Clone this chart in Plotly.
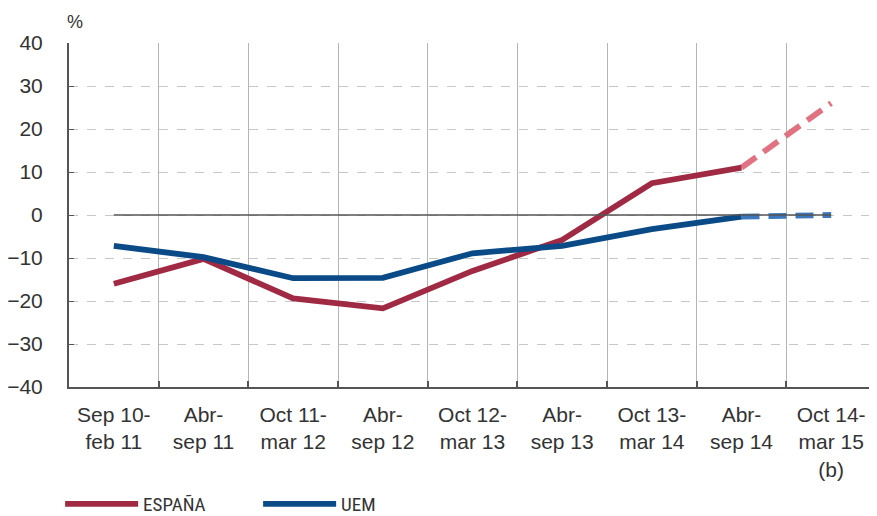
import plotly.graph_objects as go

categories = ["Sep 10-<br>feb 11", "Abr-<br>sep 11", "Oct 11-<br>mar 12", "Abr-<br>sep 12",
              "Oct 12-<br>mar 13", "Abr-<br>sep 13", "Oct 13-<br>mar 14", "Abr-<br>sep 14",
              "Oct 14-<br>mar 15<br>(b)"]
espana = [-16, -10.2, -19.4, -21.7, -13, -5.8, 7.4, 11.0, 26]
uem = [-7.2, -9.8, -14.7, -14.6, -8.9, -7.2, -3.3, -0.4, 0.0]
zero_ref = [0] * len(categories)
y_ticks = [-40, -30, -20, -10, 0, 10, 20, 30, 40]

pos = list(range(len(categories)))
bounds = [i + 0.5 for i in range(len(categories))]

RED = "#a02a43"
RED_L = "#e07281"
BLUE = "#0a4a87"
BLUE_L = "#3d78bd"
TXT = "#333333"
FONT = "Liberation Sans, Arial, sans-serif"
NARROW = "Liberation Sans Narrow, Arial Narrow, Roboto Condensed, Liberation Sans, sans-serif"

fig = go.Figure()
fig.add_trace(go.Scatter(x=pos, y=zero_ref, xaxis="x2", mode="lines",
                         line=dict(color="#555555", width=1.6), showlegend=False,
                         hoverinfo="skip"))
# estimated segments (dashed)
fig.add_trace(go.Scatter(x=pos[-2:], y=espana[-2:], mode="lines",
                         line=dict(color=RED_L, width=5.8, dash="18px,9px"), showlegend=False))
fig.add_trace(go.Scatter(x=pos[-2:], y=uem[-2:], mode="lines",
                         line=dict(color=BLUE_L, width=5.8, dash="18px,9px"), showlegend=False))
fig.add_trace(go.Scatter(x=pos[:-1], y=espana[:-1], mode="lines", name="ESPAÑA",
                         line=dict(color=RED, width=5.8)))
fig.add_trace(go.Scatter(x=pos[:-1], y=uem[:-1], mode="lines", name="UEM",
                         line=dict(color=BLUE, width=5.8)))

fig.update_layout(
    width=869, height=508,
    margin=dict(l=61, r=1, t=35, b=129, autoexpand=False),
    plot_bgcolor="white", paper_bgcolor="white",
    font=dict(family=FONT, color=TXT, size=21),
    xaxis=dict(range=[-0.5, 8.5], tickmode="array", tickvals=pos, ticktext=categories,
               showgrid=False, zeroline=False, showline=False, ticks="", automargin=False,
               tickfont=dict(size=21, color=TXT), ticklabelstandoff=13),
    xaxis2=dict(range=[-0.5, 8.5], overlaying="x", side="bottom", tickmode="array",
                tickvals=bounds, showticklabels=False, showgrid=True, automargin=False,
                gridcolor="#b5b5b5", gridwidth=1, zeroline=False,
                showline=True, linecolor="#555555", linewidth=2,
                ticks="inside", ticklen=6, tickcolor="#555555", tickwidth=1.5),
    yaxis=dict(range=[-40, 40], tickmode="array", tickvals=y_ticks, automargin=False,
               showgrid=True, gridcolor="#c8c8c8", griddash="dash", gridwidth=1,
               zeroline=False, showline=True, linecolor="#555555", linewidth=2,
               ticks="inside", ticklen=5, tickcolor="#555555",
               tickfont=dict(size=21, color=TXT), ticklabelstandoff=20),
    legend=dict(orientation="h", x=-0.011, y=-0.285, xanchor="left", yanchor="top",
                font=dict(size=19, color=TXT, family=NARROW), itemwidth=73,
                entrywidth=110, traceorder="normal"),
    showlegend=True,
)
fig.add_annotation(x=0.0, y=1.0, xref="paper", yref="paper", text="%",
                   showarrow=False, xanchor="left", yanchor="bottom", yshift=9, xshift=-4,
                   font=dict(size=18, color=TXT))

fig.write_html("out.html")
